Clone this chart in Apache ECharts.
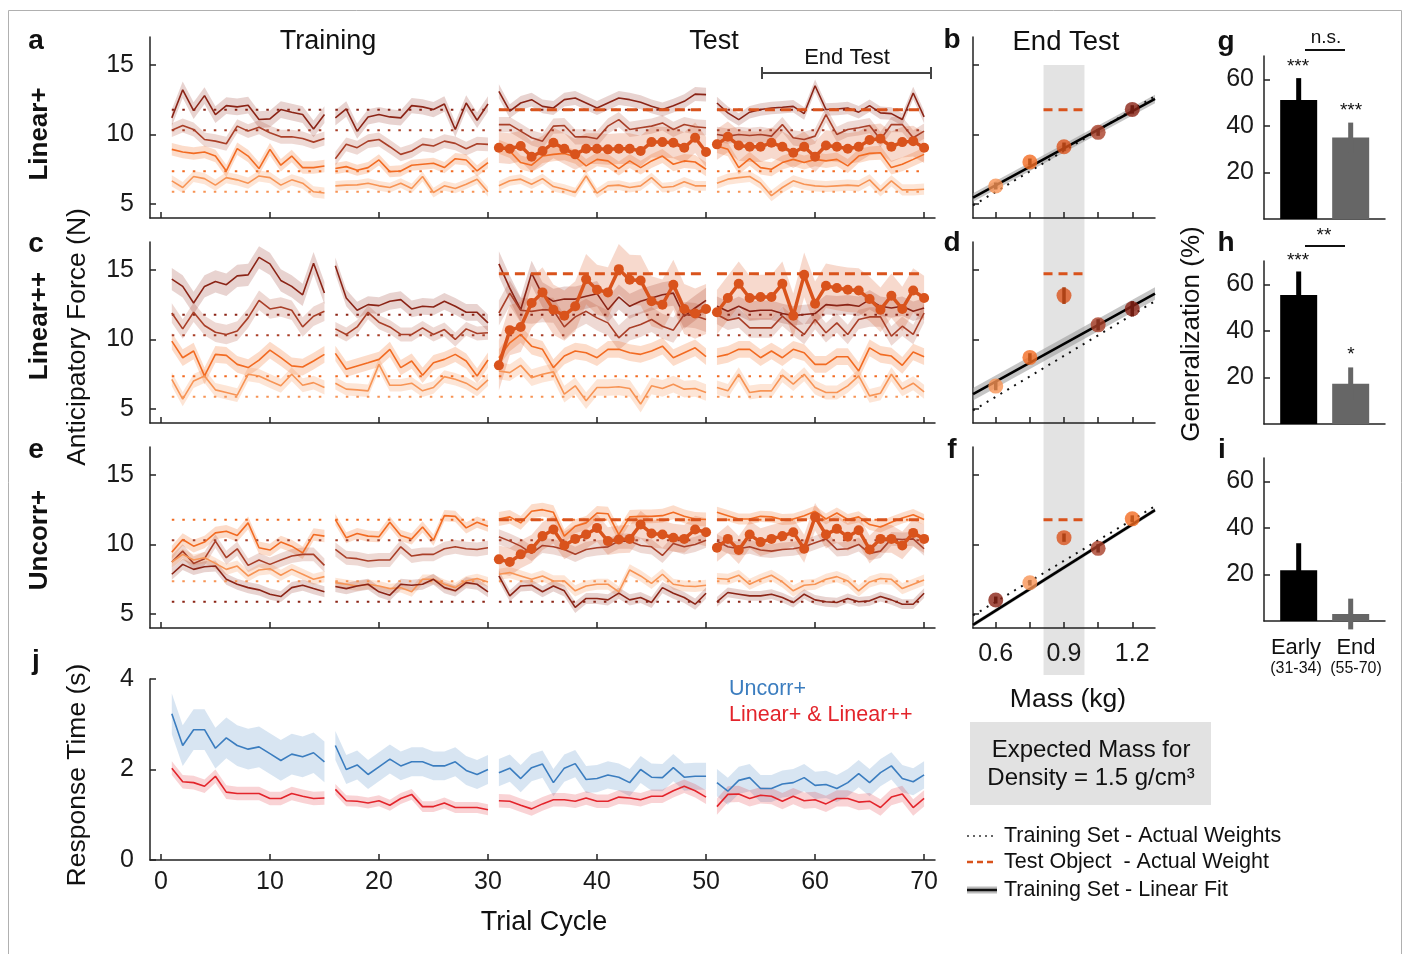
<!DOCTYPE html>
<html><head><meta charset="utf-8">
<script src="https://cdn.jsdelivr.net/npm/echarts@6/dist/echarts.min.js"></script>
<style>html,body{margin:0;padding:0;background:#fff}#c{width:1403px;height:954px}</style>
</head><body><div id="c"></div><script>
// ---------------- DATA ----------------
const cycleSegments = [[1,15],[16,30],[31,50],[51,70]];
const xTicks = [0,10,20,30,40,50,60,70];
const forceTicks = [5,10,15];
const rtTicks = [0,2,4];
const trainingWeightsN = [11.77, 10.30, 7.36, 5.89];
const testWeightLinPlus = 11.77, testWeightLinPP = 14.72, testWeightUncorr = 11.77;

// Panel a : Linear+ (cycles 1..70)
const linA_L1 = [11.19,13.21,11.71,12.79,11.43,12.07,11.98,12.1,11.07,11.12,11.79,11.6,11.43,10.4,11.43,
 11.19,11.83,10.24,11.26,11.43,11.26,11.19,12.07,11.98,11.79,12.19,10.36,12.26,11.02,12.19,
 13.1,11.67,12.26,12.5,12.02,11.9,12.5,12.62,12.26,11.9,12.26,12.62,12.5,12.31,12.02,11.79,12.07,12.38,12.9,12.86,
 12.26,11.55,11.07,11.6,11.79,11.9,11.95,12.02,11.5,13.5,11.79,11.83,11.9,11.6,12.07,11.55,11.5,11.07,12.98,11.26];
const linA_L2 = [10.31,10.64,10.36,9.64,9.52,9.33,10.6,10.24,10.52,10.12,9.83,9.83,9.71,9.45,9.71,
 8.26,9.29,9.05,9.52,9.64,9.12,8.57,8.81,9.29,9.17,9.52,9.36,8.98,9.33,9.29,
 10.71,10.71,10.24,9.76,9.52,10.6,10.64,9.83,9.83,9.69,10.6,11.07,10.36,10.48,10.6,10.83,10.36,10.71,10.55,10.48,
 10.0,9.88,10.0,9.93,10.0,9.88,10.71,9.76,9.64,9.88,11.43,10.0,10.36,10.48,10.64,9.64,10.71,10.71,9.76,10.24];
const linA_L3 = [8.93,8.74,8.64,8.74,8.45,7.38,8.98,8.45,7.55,8.93,7.79,8.45,7.62,7.62,7.74,
 7.55,7.69,7.43,7.62,8.17,7.33,7.38,7.79,7.86,7.93,7.62,8.26,8.17,7.38,7.98,
 9.12,8.81,7.98,7.79,8.45,8.57,8.64,8.4,7.74,8.21,8.1,7.55,8.1,7.62,8.1,8.45,7.86,8.1,8.02,7.5,
 9.17,8.93,7.62,8.26,7.62,7.5,7.98,8.21,7.98,8.21,8.1,8.21,7.74,8.45,8.64,8.69,7.62,7.86,8.21,8.57];
const linA_L4 = [6.67,6.19,6.98,6.83,6.36,6.9,6.74,6.5,7.02,6.9,6.36,6.74,6.5,5.88,5.79,
 6.31,6.36,6.38,6.5,6.31,6.19,6.5,6.12,6.98,5.83,6.31,6.12,6.43,6.79,5.88,
 6.31,6.67,6.79,6.43,6.83,6.26,6.07,5.83,7.02,5.79,6.31,6.36,6.19,6.31,6.9,6.19,6.26,6.6,6.31,6.31,
 6.5,6.79,6.9,6.98,6.5,5.6,6.19,6.67,6.43,6.31,6.26,6.31,6.36,6.31,6.74,5.95,6.67,6.02,6.02,6.07];
const linA_test = [9.05,8.98,9.17,8.4,8.81,9.4,8.98,8.57,8.98,8.98,8.93,8.98,8.98,8.81,9.45,9.45,9.4,9.05,9.76,8.74,
 9.29,9.83,9.21,9.12,9.12,9.4,9.12,8.69,9.12,8.4,9.21,9.12,8.98,9.12,9.6,9.69,9.12,9.45,9.52,9.05];
const linA_halfWidth = [[0.6,0.55,0.5,0.45],[0.5,0.5,0.55,0.55],[0.45,0.4,0.5,0.5],[0.4,0.35,0.35,0.4]];
const linA_testHalfWidth = [0,0,1.1,1.1];

// Panel c : Linear++
const linPP_L1 = [14.33,13.81,12.62,13.81,14.17,13.93,14.57,14.64,15.9,15.43,14.24,13.81,13.21,15.48,13.33,
 15.29,12.98,12.1,12.5,12.43,12.74,12.86,12.19,12.38,12.33,12.74,12.38,11.95,11.95,11.19,
 15.43,13.69,12.14,14.76,13.21,12.74,12.9,12.9,13.1,13.29,12.14,13.05,12.38,12.74,12.98,13.21,13.33,11.67,12.26,12.81,
 12.38,12.02,12.38,12.02,12.1,12.1,11.86,11.71,11.79,11.86,12.5,12.43,12.5,12.38,12.86,12.38,12.26,12.38,12.02,12.26];
const linPP_L2 = [11.9,10.76,11.95,11.0,10.52,10.36,10.6,11.55,12.81,12.19,12.33,12.1,10.9,11.67,12.02,
 10.76,10.36,10.9,11.95,11.24,10.9,10.36,10.36,10.83,10.36,10.71,10.0,10.76,10.43,10.48,
 11.9,13.33,12.1,12.02,12.14,12.1,10.9,11.62,12.02,11.55,11.19,10.12,10.83,11.07,11.43,10.95,10.67,11.79,11.71,11.43,
 11.79,11.38,11.55,10.83,10.83,10.83,11.67,11.0,10.36,11.43,10.48,11.19,10.36,11.43,11.62,11.62,10.24,10.95,10.36,11.9];
const linPP_L3 = [9.88,8.69,9.17,7.38,8.93,8.86,8.21,7.98,8.52,9.24,8.69,8.1,8.02,8.45,8.93,
 9.0,7.86,8.1,8.33,8.57,9.29,7.98,8.45,7.43,8.33,8.57,8.93,8.45,7.38,8.52,
 8.69,9.76,10.36,9.52,9.29,7.98,8.81,9.17,9.05,8.69,9.29,9.29,9.05,8.93,9.17,9.52,8.69,9.05,9.4,8.76,
 8.76,8.93,9.29,9.29,8.69,9.17,8.69,9.29,9.05,8.21,8.21,8.76,8.76,7.74,9.4,8.93,8.81,8.14,9.1,8.76];
const linPP_L4 = [7.14,5.71,7.02,7.38,6.38,6.19,6.0,7.5,7.38,7.02,6.67,7.5,6.71,6.9,6.55,
 6.86,6.43,6.38,6.31,8.21,6.71,6.71,6.86,6.31,6.55,7.33,7.14,6.86,6.38,7.1,
 7.74,7.62,8.14,7.26,7.5,7.67,6.07,6.67,5.6,6.55,6.55,6.6,6.48,5.36,6.67,6.48,6.79,6.43,6.48,6.19,
 6.55,6.31,7.5,6.19,6.31,6.31,7.43,6.79,7.5,6.55,6.19,6.19,6.67,7.38,5.95,6.14,7.5,6.43,6.86,6.24];
const linPP_test = [8.14,10.67,10.9,12.62,13.38,12.14,11.71,12.38,14.33,13.57,13.38,15.05,14.29,14.24,12.74,12.5,13.93,12.19,11.86,12.19,
 11.95,12.98,14.0,12.98,13.05,13.05,14.0,11.71,14.64,12.57,13.86,13.69,13.57,13.52,12.9,12.14,13.14,12.19,13.52,12.98];
const linPP_halfWidth = [[0.8,0.6,0.9,0.7],[0.7,0.5,0.9,0.7],[0.6,0.55,0.6,0.6],[0.5,0.45,0.6,0.5]];
const linPP_testHalfWidth = [0,0,1.8,1.6];

// Panel e : Uncorr+
const unc_A = [9.45,10.36,9.88,10.17,10.83,10.95,10.64,11.55,9.76,9.6,10.17,9.88,9.4,10.71,10.6,
 11.79,10.48,10.79,10.6,10.55,11.6,10.64,10.4,11.26,10.31,12.07,12.02,11.19,11.6,11.31,
 11.83,11.98,11.55,12.38,12.5,12.31,10.6,11.31,11.55,12.26,12.21,10.71,11.98,12.02,12.02,12.07,12.31,12.02,11.83,11.79,
 12.31,12.07,11.83,11.83,12.02,11.98,11.79,11.83,12.07,12.38,11.83,12.26,11.79,11.98,11.43,11.26,11.6,11.9,12.14,11.79];
const unc_B = [8.74,9.52,8.64,8.98,10.24,9.05,9.69,8.5,8.88,8.57,8.88,9.17,9.29,9.29,8.5,
 9.64,9.05,8.98,8.81,8.88,8.88,9.83,9.17,9.29,9.29,9.69,9.83,9.69,9.64,9.76,
 10.55,10.24,9.88,9.36,9.93,9.83,9.64,9.29,9.64,9.76,9.83,10.24,10.24,9.93,9.83,9.21,10.07,9.83,10.0,10.31,
 10.24,9.83,9.69,9.83,9.6,9.52,9.64,9.69,9.83,10.12,10.4,9.64,9.69,10.0,9.36,9.52,10.4,10.36,10.4,9.69];
const unc_C = [8.74,9.29,8.88,9.05,8.64,8.21,8.45,7.74,8.17,8.26,7.79,8.21,7.86,7.5,7.69,
 7.26,7.14,7.02,7.14,7.02,6.83,6.9,6.6,7.5,7.5,7.14,6.9,7.38,7.55,7.31,
 7.86,7.98,7.74,7.5,7.74,7.38,7.38,6.67,7.02,7.14,7.14,6.6,8.17,7.74,7.21,7.86,7.14,7.02,6.98,7.07,
 7.55,7.5,7.79,7.14,7.5,7.79,7.31,6.67,7.07,7.14,7.5,7.69,7.38,6.67,7.31,7.55,7.5,6.83,7.14,7.45];
const unc_D = [7.86,8.57,8.21,8.4,8.45,7.5,7.14,6.9,6.74,6.43,6.26,6.9,7.07,6.83,6.6,
 6.98,6.83,7.02,7.14,6.6,6.36,7.14,7.07,7.14,7.5,6.9,6.67,7.26,7.14,6.6,
 7.74,6.31,7.02,7.07,6.6,7.02,6.67,5.48,6.12,6.12,6.02,6.5,6.02,6.19,5.83,6.9,6.5,6.19,5.71,6.5,
 5.88,6.55,6.43,6.31,6.31,6.43,6.19,5.83,6.43,6.02,5.88,5.83,6.12,5.88,5.95,6.26,6.02,5.71,5.71,6.5];
const unc_test = [8.93,8.74,9.29,9.69,10.6,11.07,9.93,10.4,10.71,11.19,10.24,10.36,10.4,11.43,10.79,10.71,10.48,10.4,11.07,10.88,
 9.76,10.4,9.6,10.71,10.17,10.4,10.6,10.88,9.69,11.98,10.71,11.12,10.55,11.02,9.64,10.4,10.4,9.93,10.83,10.4];
const unc_halfWidth = [[0.45,0.4,0.5,0.4],[0.5,0.5,0.55,0.5],[0.4,0.35,0.4,0.4],[0.4,0.4,0.4,0.35]];
const unc_testHalfWidth = [0,0,1.0,1.0];

// Panel j : response time (s)
const rtUncorr = [3.23,2.53,2.88,2.88,2.47,2.7,2.53,2.45,2.5,2.35,2.2,2.34,2.28,2.37,2.17,
 2.53,2.0,2.1,1.89,2.06,2.23,2.08,2.17,2.17,2.08,2.08,2.17,1.98,1.89,2.0,
 1.93,2.03,1.8,2.04,2.12,1.71,2.03,2.13,1.78,1.8,1.88,1.83,1.71,2.0,1.83,1.82,2.04,1.83,1.85,1.85,
 1.71,1.52,1.76,1.82,1.58,1.58,1.68,1.71,1.82,1.65,1.67,1.58,1.71,1.91,1.71,1.93,2.08,1.8,1.73,1.88];
const rtLinear = [2.03,1.73,1.71,1.63,1.85,1.5,1.47,1.47,1.47,1.36,1.36,1.47,1.41,1.36,1.37,
 1.56,1.31,1.3,1.26,1.31,1.21,1.36,1.45,1.18,1.18,1.26,1.16,1.16,1.16,1.11,
 1.31,1.3,1.21,1.13,1.24,1.33,1.33,1.3,1.37,1.3,1.3,1.39,1.37,1.33,1.41,1.41,1.53,1.63,1.53,1.39,
 1.18,1.45,1.46,1.36,1.43,1.41,1.3,1.41,1.31,1.33,1.24,1.36,1.36,1.28,1.3,1.16,1.39,1.46,1.16,1.36];
const rtUncorrHalfWidth = [0.45,0.32,0.3,0.3];
const rtLinearHalfWidth = [0.15,0.12,0.15,0.18];

// Panels b/d/f : End Test force vs mass
const massTicks = [0.6,0.75,0.9,1.05,1.2];
const massLabels = [0.6,0.9,1.2];
const densityBand = [0.81,0.99];
const endLinPlus = [6.3,8.02,9.12,10.15,11.8];
const endLinPlusErr = [0.25,0.25,0.3,0.25,0.3];
const endLinPP = [6.65,8.71,13.15,11.05,12.2];
const endLinPPErr = [0.3,0.3,0.6,0.4,0.55];
const endUncorr = [6.01,7.25,10.49,9.72,11.84];
const endUncorrErr = [0.25,0.2,0.3,0.3,0.25];
const actualWeightLine = [[0.5,4.9],[1.3,12.75]];
const fitLinPlus = [[0.5,5.47],[1.3,12.55]], fitLinPlusSE = 0.3;
const fitLinPP = [[0.5,6.07],[1.3,13.3]], fitLinPPSE = 0.45;
const fitUncorr = [[0.5,4.23],[1.3,12.47]], fitUncorrSE = 0.15;

// Panels g/h/i : generalization (%)
const genGroups = ['Early','End'];
const genLinPlus = [51.1,35.0], genLinPlusErr = [9.4,6.4];
const genLinPP = [55.4,17.3], genLinPPErr = [10.1,7.0];
const genUncorr = [21.8,3.0], genUncorrErr = [11.6,6.6];

// ---------------- STYLE ----------------
const FONT = '"Liberation Sans", Arial, Helvetica, sans-serif';
const C = { DB:'#8b2416', BR:'#a93f28', OR:'#f26b22', LO:'#f79455', T:'#d9531c', BLUE:'#3b7dbf', RED:'#e3242b' };
function rgba(hex,a){const n=parseInt(hex.slice(1),16);return `rgba(${n>>16},${(n>>8)&255},${n&255},${a})`;}
function darker(hex,f){const n=parseInt(hex.slice(1),16);return `rgb(${Math.round((n>>16)*f)},${Math.round(((n>>8)&255)*f)},${Math.round((n&255)*f)})`;}

// ---------------- HELPERS ----------------
function segData(vals, first){
  const out=[];
  cycleSegments.forEach(([s,e])=>{
    if(e<first) return;
    if(out.length) out.push([s-0.5,'-']);
    for(let c=Math.max(s,first);c<=e;c++) out.push([c, vals[c-first]]);
  });
  return out;
}
function segBand(vals, first, hw){
  const segs=[];
  cycleSegments.forEach(([s,e],k)=>{
    if(e<first) return;
    const seg=[];
    for(let c=Math.max(s,first);c<=e;c++){const v=vals[c-first];seg.push([c,v-hw[k],v+hw[k]]);}
    segs.push(seg);
  });
  return segs;
}
function bandSeries(ax, segs, fill, z){
  return {type:'custom', xAxisIndex:ax, yAxisIndex:ax, z:z||1, silent:true, clip:false,
    data: segs.flat(), encode:{x:0,y:[1,2]},
    renderItem:function(p,api){
      if(p.dataIndex!==0) return null;
      return {type:'group', children: segs.map(seg=>{
        const up=seg.map(q=>api.coord([q[0],q[2]]));
        const dn=seg.map(q=>api.coord([q[0],q[1]])).reverse();
        return {type:'polygon', shape:{points:up.concat(dn)}, style:{fill:fill}};
      })};
    }};
}
function lineS(ax, data, color, width, z, extra){
  return Object.assign({type:'line', xAxisIndex:ax, yAxisIndex:ax, data:data, symbol:'none', showSymbol:false,
    connectNulls:false, silent:true, z:z||3, lineStyle:{color:color, width:width}}, extra||{});
}
function refData(w, fromSeg){
  const out=[];
  cycleSegments.forEach(([s,e],k)=>{ if(k<fromSeg) return; if(out.length) out.push([s-0.5,'-']); out.push([s,w],[e,w]); });
  return out;
}
function errSeries(ax, items, color, width, z){
  return {type:'custom', xAxisIndex:ax, yAxisIndex:ax, silent:true, clip:false, z:z||6, data:items, encode:{x:0,y:[1,2]},
    renderItem:function(p,api){
      const a=api.coord([api.value(0),api.value(1)]), b=api.coord([api.value(0),api.value(2)]);
      return {type:'line', shape:{x1:a[0],y1:a[1],x2:b[0],y2:b[1]}, style:{stroke:color, lineWidth:width}};
    }};
}

// ---------------- SERIES ----------------
const series=[];
const forcePanels=[
  {ax:0, lines:[linA_L1,linA_L2,linA_L3,linA_L4], hw:linA_halfWidth, colors:[C.DB,C.BR,C.OR,C.LO], test:linA_test, testHW:linA_testHalfWidth, testW:testWeightLinPlus},
  {ax:1, lines:[linPP_L1,linPP_L2,linPP_L3,linPP_L4], hw:linPP_halfWidth, colors:[C.DB,C.BR,C.OR,C.LO], test:linPP_test, testHW:linPP_testHalfWidth, testW:testWeightLinPP},
  {ax:2, lines:[unc_A,unc_B,unc_C,unc_D], hw:unc_halfWidth, colors:[C.OR,C.BR,C.LO,C.DB], test:unc_test, testHW:unc_testHalfWidth, testW:testWeightUncorr}
];
forcePanels.forEach(P=>{
  P.lines.forEach((L,i)=>series.push(bandSeries(P.ax, segBand(L,1,P.hw[i]), rgba(P.colors[i], P.colors[i]===C.DB||P.colors[i]===C.BR?0.2:0.24), 1)));
  series.push(bandSeries(P.ax, segBand(P.test,31,P.testHW), rgba(C.T,0.22), 1));
  trainingWeightsN.forEach((w,i)=>series.push(lineS(P.ax, refData(w,0), P.colors[i], 2, 2, {lineStyle:{color:P.colors[i], width:2, type:[2.5,8]}})));
  P.lines.forEach((L,i)=>series.push(lineS(P.ax, segData(L,1), P.colors[i], 1.6, 3)));
  series.push(lineS(P.ax, refData(P.testW,2), C.T, 3, 4, {lineStyle:{color:C.T, width:3, type:[10,6]}}));
  series.push(lineS(P.ax, segData(P.test,31), C.T, 3.5, 5, {symbol:'circle', showSymbol:true, symbolSize:10, itemStyle:{color:C.T}}));
});
// j
series.push(bandSeries(3, segBand(rtUncorr,1,rtUncorrHalfWidth), rgba(C.BLUE,0.2), 1));
series.push(bandSeries(3, segBand(rtLinear,1,rtLinearHalfWidth), rgba(C.RED,0.2), 1));
series.push(lineS(3, segData(rtUncorr,1), C.BLUE, 1.6, 3));
series.push(lineS(3, segData(rtLinear,1), C.RED, 1.6, 3));

// background density band (b/d/f)
series.push({type:'custom', xAxisIndex:10, yAxisIndex:10, silent:true, clip:false, z:-1, data:[[densityBand[0],0,densityBand[1],1]],
  renderItem:function(p,api){const a=api.coord([api.value(0),api.value(3)]), b=api.coord([api.value(2),api.value(1)]);
    return {type:'rect', shape:{x:a[0],y:a[1],width:b[0]-a[0],height:b[1]-a[1]}, style:{fill:'#e3e3e3'}};}});

const endPanels=[
  {ax:4, pts:endLinPlus, err:endLinPlusErr, fit:fitLinPlus, se:fitLinPlusSE, colors:[C.LO,C.OR,C.T,C.BR,C.DB], testW:testWeightLinPlus},
  {ax:5, pts:endLinPP, err:endLinPPErr, fit:fitLinPP, se:fitLinPPSE, colors:[C.LO,C.OR,C.T,C.BR,C.DB], testW:testWeightLinPP},
  {ax:6, pts:endUncorr, err:endUncorrErr, fit:fitUncorr, se:fitUncorrSE, colors:[C.DB,C.LO,C.T,C.BR,C.OR], testW:testWeightUncorr}
];
endPanels.forEach(P=>{
  series.push(bandSeries(P.ax, [P.fit.map(q=>[q[0],q[1]-P.se,q[1]+P.se])], 'rgba(150,150,150,0.55)', 2));
  series.push(lineS(P.ax, actualWeightLine, '#111', 2, 3, {lineStyle:{color:'#111', width:2, type:[2,6]}}));
  series.push(lineS(P.ax, P.fit, '#000', 2.6, 3));
  series.push(lineS(P.ax, [[densityBand[0],P.testW],[densityBand[1],P.testW]], C.T, 3, 4, {lineStyle:{color:C.T, width:3, type:[9,6]}}));
  series.push({type:'scatter', xAxisIndex:P.ax, yAxisIndex:P.ax, silent:true, z:5, symbolSize:15,
    data:massTicks.map((m,i)=>({value:[m,P.pts[i]], itemStyle:{color:P.colors[i]}}))});
  massTicks.forEach((m,i)=>series.push(errSeries(P.ax, [[m,P.pts[i]-P.err[i],P.pts[i]+P.err[i]]], darker(P.colors[i],0.8), 3.5, 6)));
});

// g/h/i bars
const barPanels=[{ax:7,v:genLinPlus,e:genLinPlusErr},{ax:8,v:genLinPP,e:genLinPPErr},{ax:9,v:genUncorr,e:genUncorrErr}];
const barColors=['#000000','#666666'];
barPanels.forEach(P=>{
  series.push({type:'bar', xAxisIndex:P.ax, yAxisIndex:P.ax, silent:true, barWidth:37, z:3,
    data:genGroups.map((g,i)=>({value:[i,P.v[i]], itemStyle:{color:barColors[i]}}))});
  genGroups.forEach((g,i)=>series.push(errSeries(P.ax, [[i,P.v[i]-P.e[i],P.v[i]+P.e[i]]], barColors[i], 5, 4)));
});

// ---------------- AXES ----------------
const axLine={lineStyle:{color:'#222',width:1.5}, onZero:false};
function tick(vals){return {show:true, inside:true, length:6, customValues:vals, lineStyle:{color:'#222',width:1.5}};}
function lab(vals, size, margin){return vals?{show:true, customValues:vals, fontSize:size||25, color:'#1a1a1a', fontFamily:FONT, margin:margin||12}:{show:false};}
const grids=[
  {left:150,top:37,width:785,height:181},
  {left:150,top:242,width:785,height:181},
  {left:150,top:447,width:785,height:181},
  {left:150,top:679,width:785,height:181},
  {left:973,top:37,width:182,height:181},
  {left:973,top:242,width:182,height:181},
  {left:973,top:447,width:182,height:181},
  {left:1264,top:56,width:121,height:163},
  {left:1264,top:261,width:121,height:163},
  {left:1264,top:458,width:121,height:163},
  {left:973,top:65,width:182,height:610}
];
const xAxes=[], yAxes=[];
for(let i=0;i<3;i++){
  xAxes.push({type:'value',gridIndex:i,min:-1,max:71,axisLine:axLine,axisTick:tick(xTicks),axisLabel:lab(null),splitLine:{show:false}});
  yAxes.push({type:'value',gridIndex:i,min:4,max:17,axisLine:axLine,axisTick:tick(forceTicks),axisLabel:lab(forceTicks,25,16),splitLine:{show:false}});
}
xAxes.push({type:'value',gridIndex:3,min:-1,max:71,axisLine:axLine,axisTick:tick(xTicks),axisLabel:lab(xTicks,25,10),splitLine:{show:false}});
yAxes.push({type:'value',gridIndex:3,min:0,max:4,axisLine:axLine,axisTick:tick(rtTicks),axisLabel:lab(rtTicks,25,16),splitLine:{show:false}});
for(let i=4;i<7;i++){
  xAxes.push({type:'value',gridIndex:i,min:0.5,max:1.3,axisLine:axLine,axisTick:tick(massTicks),axisLabel:i===6?lab(massLabels,25,14):lab(null),splitLine:{show:false}});
  yAxes.push({type:'value',gridIndex:i,min:4,max:17,axisLine:axLine,axisTick:tick(forceTicks),axisLabel:lab(null),splitLine:{show:false}});
}
for(let i=7;i<10;i++){
  xAxes.push({type:'value',gridIndex:i,min:-0.667,max:1.66,axisLine:axLine,axisTick:{show:false},axisLabel:lab(null),splitLine:{show:false}});
  yAxes.push({type:'value',gridIndex:i,min:0,max:70,axisLine:axLine,axisTick:tick([20,40,60]),axisLabel:lab([20,40,60],25,10),splitLine:{show:false}});
}
xAxes.push({type:'value',gridIndex:10,min:0.5,max:1.3,show:false});
yAxes.push({type:'value',gridIndex:10,min:0,max:1,show:false});

// ---------------- GRAPHIC TEXT ----------------
function txt(text,x,y,size,o){o=o||{};
  return {type:'text',x:x,y:y,rotation:o.rot||0,z:100,silent:true,
    style:{text:text,fontSize:size,fontFamily:FONT,fontWeight:o.bold?'bold':'normal',fill:o.color||'#111',
      align:o.align||'center',verticalAlign:'middle',textAlign:o.align||'center',textVerticalAlign:'middle'}};}
function gl(x1,y1,x2,y2,c,w,dash){return {type:'line',z:100,silent:true,shape:{x1:x1,y1:y1,x2:x2,y2:y2},style:{stroke:c,lineWidth:w,lineDash:dash||null}};}
const R=Math.PI/2;
const graphic=[
  {type:'rect',z:-5,silent:true,shape:{x:8.5,y:10.5,width:1393,height:945},style:{fill:null,stroke:'#b0b0b0',lineWidth:1}},
  txt('a',36,41,28,{bold:true}), txt('c',36,244,28,{bold:true}), txt('e',36,450,28,{bold:true}), txt('j',36,661,28,{bold:true}),
  txt('b',952,40,28,{bold:true}), txt('d',952,243,28,{bold:true}), txt('f',952,450,28,{bold:true}),
  txt('g',1226,42,28,{bold:true}), txt('h',1226,243,28,{bold:true}), txt('i',1222,450,28,{bold:true}),
  txt('Linear+',40,134,26,{bold:true,rot:R}), txt('Linear++',40,326,26,{bold:true,rot:R}), txt('Uncorr+',40,540,26,{bold:true,rot:R}),
  txt('Anticipatory Force (N)',78,337,26.5,{rot:R}), txt('Response Time (s)',78,775,26.5,{rot:R}),
  txt('Training',328,42,27), txt('Test',714,42,27), txt('End Test',847,58,22),
  gl(762,73,931,73,'#444',2), gl(762,67,762,79,'#444',2), gl(931,67,931,79,'#444',2),
  txt('End Test',1066,42,27.5),
  txt('Mass (kg)',1068,700,26.5),
  {type:'rect',z:50,silent:true,shape:{x:970,y:722,width:241,height:83},style:{fill:'#e2e2e2'}},
  txt('Expected Mass for',1091,750,24), txt('Density = 1.5 g/cm³',1091,778,24),
  gl(967,836,997,836,'#333',1.5,[2,4]), txt('Training Set - Actual Weights',1004,836,21.5,{align:'left'}),
  gl(967,862,997,862,C.T,2.5,[6,4]), txt('Test Object  - Actual Weight',1004,862,21.5,{align:'left'}),
  gl(967,890,997,890,'#bbbbbb',7), gl(967,890,997,890,'#111',2.5), txt('Training Set - Linear Fit',1004,890,21.5,{align:'left'}),
  txt('Trial Cycle',544,923,27),
  txt('Uncorr+',729,689,21.5,{align:'left',color:C.BLUE}), txt('Linear+ & Linear++',729,715,21.5,{align:'left',color:C.RED}),
  txt('Generalization (%)',1192,334,26,{rot:R}),
  txt('n.s.',1326,38,19), gl(1305,50,1345,50,'#111',2),
  txt('***',1298,67,19), txt('***',1351,111,19),
  txt('**',1324,236,19), gl(1305,246,1345,246,'#111',2),
  txt('***',1298,261,19), txt('*',1351,355,19),
  txt('Early',1296,648,22), txt('End',1356,648,22), txt('(31-34)',1296,669,16), txt('(55-70)',1356,669,16)
];

const chart=echarts.init(document.getElementById('c'),null,{renderer:'canvas'});
chart.setOption({animation:false, backgroundColor:'#fff', textStyle:{fontFamily:FONT},
  grid:grids, xAxis:xAxes, yAxis:yAxes, series:series, graphic:graphic});
</script></body></html>
